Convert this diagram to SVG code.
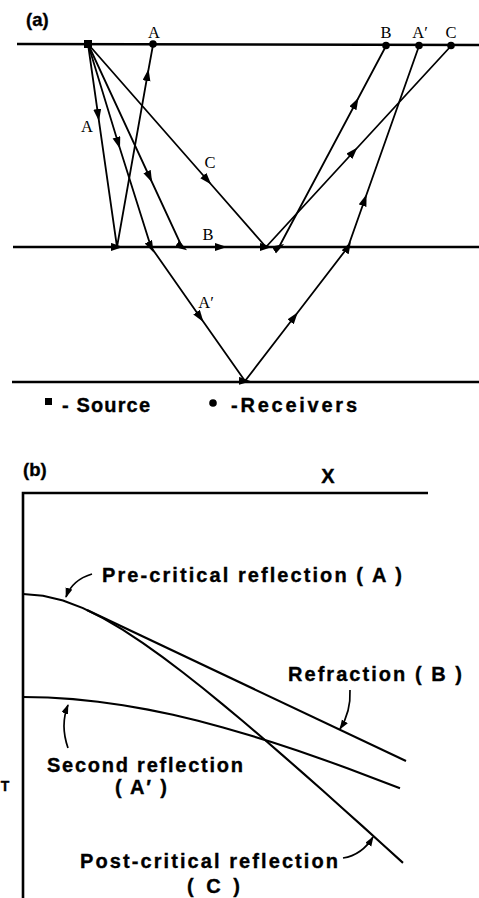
<svg xmlns="http://www.w3.org/2000/svg" width="479" height="898" viewBox="0 0 479 898">
<style>
.bg{fill:#fff}
.iface{stroke:#000;stroke-width:2.6;fill:none}
.ray{stroke:#000;stroke-width:1.8;fill:none;stroke-linejoin:miter}
.arr{marker-mid:url(#ah)}
.curve{stroke:#000;stroke-width:2.1;fill:none}
.axis{stroke:#000;stroke-width:2.6;fill:none}
.lead{stroke:#000;stroke-width:1.7;fill:none;marker-end:url(#lh)}
.serif{font-family:"Liberation Serif","Times New Roman",serif;font-size:16.5px;fill:#000}
.sans{font-family:"Liberation Sans",Arial,Helvetica,sans-serif;font-weight:bold;fill:#000;stroke:#000;stroke-width:0.35}
.lbl{font-size:20px}
</style>
<defs>
<marker id="ah" markerUnits="userSpaceOnUse" markerWidth="13" markerHeight="9" refX="6" refY="4" orient="auto">
<path d="M0,0 L12,4 L0,8 z" fill="#000"/>
</marker>
<marker id="lh" markerUnits="userSpaceOnUse" markerWidth="11" markerHeight="8" refX="9" refY="3.5" orient="auto">
<path d="M0,0 L10,3.5 L0,7 z" fill="#000"/>
</marker>
</defs>
<rect class="bg" x="0" y="0" width="479" height="898"/>

<g id="panel-a">
<text class="sans" x="26" y="26" font-size="18.5">(a)</text>
<g id="interfaces">
<line class="iface" x1="17" y1="44" x2="479" y2="45"/>
<line class="iface" x1="13" y1="247" x2="479" y2="247"/>
<line class="iface" x1="12" y1="382" x2="479" y2="382"/>
</g>
<g id="rays">
<path id="ray-A" class="ray arr" d="M88,44 L98.1,115 L117,247 L147.5,75 L153,45"/>
<path id="ray-A2" class="ray arr" d="M88,44 L118.2,143 L151,247 L200,317 L245,381 L294.2,317 L348,247 L364.6,200 L419,46"/>
<path id="ray-B" class="ray arr" d="M88,44 L149.6,177 L182,247 L221,247 L279,247 L355.7,103 L386,46"/>
<path id="ray-C" class="ray arr" d="M88,44 L207.3,180 L266,247 L353.4,152 L451,46"/>
</g>
<g id="source"><rect x="84" y="40" width="8" height="8" fill="#000"/></g>
<g id="receivers">
<circle cx="153" cy="44" r="3.8" fill="#000"/>
<circle cx="386" cy="45.5" r="3.8" fill="#000"/>
<circle cx="419" cy="45.5" r="3.8" fill="#000"/>
<circle cx="451" cy="45.5" r="3.8" fill="#000"/>
</g>
<g id="labels-a" text-anchor="middle">
<text class="serif" x="154" y="38">A</text>
<text class="serif" x="386" y="38">B</text>
<text class="serif" x="420" y="38">A′</text>
<text class="serif" x="451" y="38">C</text>
<text class="serif" x="87" y="132">A</text>
<text class="serif" x="210" y="168">C</text>
<text class="serif" x="208" y="240">B</text>
<text class="serif" x="206" y="308">A′</text>
</g>
<g id="legend">
<rect x="45" y="398" width="7" height="7" fill="#000"/>
<text class="sans lbl" x="62" y="412" textLength="88" lengthAdjust="spacing">- Source</text>
<circle cx="213" cy="403" r="3.8" fill="#000"/>
<text class="sans lbl" x="231" y="412" textLength="126" lengthAdjust="spacing">-Receivers</text>
</g>
</g>

<g id="panel-b">
<text class="sans" x="23" y="476" font-size="18.5">(b)</text>
<text class="sans lbl" x="328" y="483" text-anchor="middle">X</text>
<text class="sans" x="5" y="791" font-size="14" text-anchor="middle">T</text>
<g id="axes">
<path class="axis" d="M428,493 L23,493 L23,898"/>
</g>
<g id="curves">
<polyline id="curve-A-C" class="curve" points="23,594 43,595.7 63,600.5 83,608.1 103,618.1 123,629.9 143,643.1 163,657.4 183,672.5 203,688.3 223,704.6 243,721.3 263,738.3 283,755.6 303,773.1 323,790.8 343,808.7 363,826.6 383,844.7 403,862.9"/>
<line id="curve-B" class="curve" x1="87" y1="610" x2="406" y2="761"/>
<polyline id="curve-A2" class="curve" points="23,697 48,697.5 73,699.1 98,701.7 123,705.2 148,709.6 173,714.8 198,720.8 223,727.5 248,734.7 273,742.5 298,750.8 323,759.4 348,768.5 373,777.9 400,788.3"/>
</g>
<g id="leaders">
<path class="lead" d="M92,574 Q72,580 66,597"/>
<path class="lead" d="M350,690 Q351,712 340,729"/>
<path class="lead" d="M68,748 Q60,725 68,705"/>
<path class="lead" d="M343,858 Q362,855 373,837"/>
</g>
<g id="labels-b">
<text class="sans lbl" x="102" y="582" textLength="300" lengthAdjust="spacing">Pre-critical reflection ( A )</text>
<text class="sans lbl" x="288" y="681" textLength="174" lengthAdjust="spacing">Refraction ( B )</text>
<text class="sans lbl" x="47" y="772" textLength="196" lengthAdjust="spacing">Second reflection</text>
<text class="sans lbl" x="115" y="794" textLength="52" lengthAdjust="spacing">( A′ )</text>
<text class="sans lbl" x="80" y="868" textLength="258" lengthAdjust="spacing">Post-critical reflection</text>
<text class="sans lbl" x="187" y="893" textLength="53" lengthAdjust="spacing">( C )</text>
</g>
</g>
</svg>
